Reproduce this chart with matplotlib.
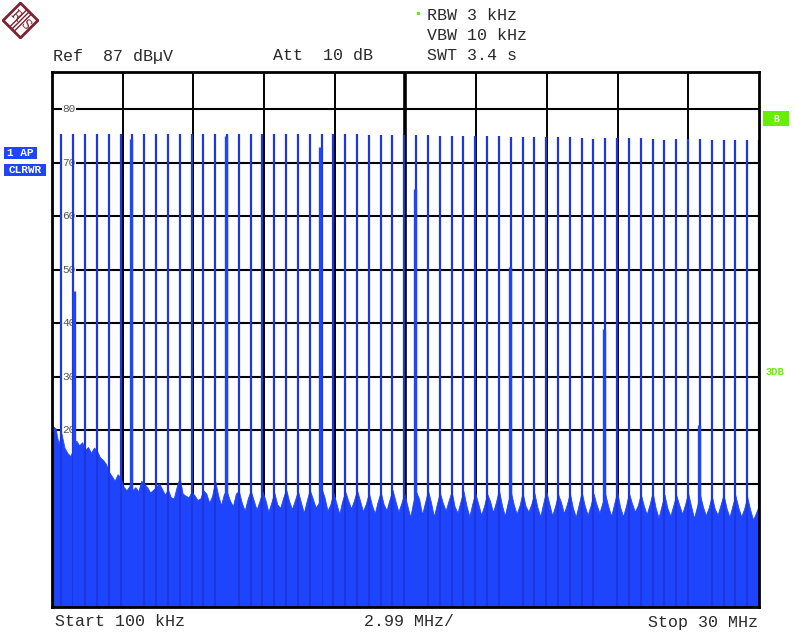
import numpy as np
import matplotlib.pyplot as plt
from matplotlib.patches import Polygon, Rectangle
from matplotlib.transforms import blended_transform_factory

#-------------------------------------
# Sweep settings (MHz / dBuV)
f_start = 0.1
f_stop = 30.0
f_div = 2.99
ref_level = 87
bottom_level = -13
grid_levels = [80, 70, 60, 50, 40, 30, 20, 10, 0, -10]

# 500 kHz comb (harmonics), peak levels
harm_freq = [0.5, 1.0, 1.5, 2.0, 2.5, 3.0, 3.5, 4.0, 4.5, 5.0,
             5.5, 6.0, 6.5, 7.0, 7.5, 8.0, 8.5, 9.0, 9.5, 10.0,
             10.5, 11.0, 11.5, 12.0, 12.5, 13.0, 13.5, 14.0, 14.5, 15.0,
             15.5, 16.0, 16.5, 17.0, 17.5, 18.0, 18.5, 19.0, 19.5, 20.0,
             20.5, 21.0, 21.5, 22.0, 22.5, 23.0, 23.5, 24.0, 24.5, 25.0,
             25.5, 26.0, 26.5, 27.0, 27.5, 28.0, 28.5, 29.0, 29.5, 30.0]
harm_level = [75.5, 75.5, 75.5, 75.5, 75.5, 75.5, 75.5, 75.5, 75.5, 75.5,
              75.5, 75.5, 75.5, 75.5, 75.5, 75.5, 75.4, 75.5, 75.5, 75.5,
              75.4, 75.5, 75.4, 75.4, 75.5, 75.4, 75.3, 75.3, 75.3, 75.3,
              75.2, 75.2, 75.1, 75.1, 75.1, 75.0, 75.1, 75.0, 74.9, 74.9,
              74.9, 74.9, 74.9, 74.9, 74.6, 74.5, 74.6, 74.6, 74.6, 74.6,
              74.4, 74.3, 74.4, 74.4, 74.4, 74.3, 74.2, 74.3, 74.3, 74.3]

# extra (wider) spurs sitting next to some harmonics
spur_freq = [1.05, 3.45, 7.45, 11.45, 15.45, 19.45, 23.45, 27.45]
spur_level = [46.0, 74.5, 75.0, 73.0, 65.2, 50.6, 39.0, 21.0]

# noise floor, one row per MHz, samples every 125 kHz (0.125 ... 1.0 in the row)
floor_start_level = 21.3
floor_rows = [
    [20.8, 20.4, 17.5, 19.4, 16.8, 15.8, 15.2, 16.5],
    [18.1, 17.2, 17.8, 16.4, 16.9, 15.8, 16.8, 16.2],
    [15.0, 14.5, 13.8, 12.3, 11.5, 10.6, 11.8, 11.2],
    [9.5, 8.8, 9.6, 8.8, 9.4, 8.6, 10.6, 10.0],
    [9.4, 8.4, 8.9, 9.4, 10.1, 9.1, 8.0, 9.0],
    [7.5, 7.3, 9.5, 11.2, 8.2, 7.8, 7.5, 8.5],
    [7.9, 7.0, 7.3, 8.8, 8.2, 6.5, 7.8, 10.6],
    [7.9, 6.0, 8.2, 8.5, 6.9, 5.8, 8.2, 8.7],
    [6.5, 5.0, 7.2, 8.8, 7.0, 5.2, 6.8, 8.6],
    [7.0, 4.8, 6.5, 8.4, 6.2, 5.5, 7.4, 9.0],
    [6.8, 5.3, 7.0, 8.7, 6.6, 4.6, 6.9, 8.9],
    [7.3, 5.6, 6.4, 9.2, 7.5, 5.0, 6.2, 8.4],
    [6.4, 4.4, 6.8, 8.6, 6.9, 5.4, 7.0, 8.8],
    [6.9, 4.9, 6.3, 8.3, 6.1, 4.5, 6.7, 8.5],
    [6.2, 5.1, 7.1, 8.9, 6.8, 4.8, 6.4, 8.2],
    [6.0, 3.8, 6.6, 8.5, 7.2, 4.3, 6.5, 8.8],
    [6.6, 3.9, 6.2, 8.4, 6.5, 5.0, 6.9, 8.6],
    [5.8, 4.6, 6.7, 8.7, 6.0, 3.9, 6.3, 8.3],
    [6.3, 4.2, 5.9, 8.2, 6.8, 4.7, 6.6, 8.9],
    [6.1, 4.0, 6.5, 8.6, 6.2, 4.4, 6.0, 8.4],
    [5.9, 4.8, 6.3, 8.3, 5.7, 3.9, 6.4, 8.7],
    [6.4, 4.1, 5.8, 8.1, 6.6, 4.5, 6.2, 8.3],
    [5.6, 3.8, 6.1, 8.5, 6.0, 4.2, 5.9, 8.2],
    [6.2, 4.6, 6.4, 8.0, 5.8, 4.0, 6.3, 8.6],
    [5.7, 3.9, 5.9, 8.3, 6.4, 4.8, 6.0, 8.1],
    [6.0, 4.3, 6.2, 8.4, 5.6, 3.7, 5.8, 8.0],
    [5.5, 4.0, 6.0, 7.9, 6.1, 4.4, 6.2, 8.3],
    [5.9, 3.6, 5.7, 8.1, 5.8, 4.1, 5.6, 7.8],
    [5.4, 4.2, 6.1, 8.0, 5.5, 3.8, 5.9, 7.9],
    [5.6, 3.9, 5.4, 7.6, 5.2, 3.3, 4.6, 6.0],
]

#-------------------------------------
# Colors / fonts
TRACE = '#1f45fc'
SPIKE = '#1c36e2'
MONO = 'Liberation Mono'
TXT = '#2a2a2a'
W, H = 794, 637

floor_level = [floor_start_level] + [v for row in floor_rows for v in row]
floor_freq = [f_start] + list(np.arange(1, len(floor_level)) * 0.125)

fig = plt.figure(figsize=(W / 100, H / 100), dpi=100)
fig.patch.set_facecolor('white')

def fx(px):
    return px / W

def fy(py):
    return 1 - py / H

ax = fig.add_axes([fx(52), 30 / H, 707 / W, 535 / H])
ax.set_xlim(f_start, f_stop)
ax.set_ylim(bottom_level, ref_level)
ax.set_xticks([])
ax.set_yticks([])
for s in ax.spines.values():
    s.set_linewidth(2.0)
    s.set_color('black')
    s.set_zorder(6)

# graticule
for i in range(1, 10):
    ax.axvline(f_start + i * f_div, color='black', lw=2.6 if i == 5 else 1.4, zorder=1)
for lev in grid_levels:
    ax.axhline(lev, color='black', lw=1.5, zorder=1)

# level labels inside the graticule
trans = blended_transform_factory(ax.transAxes, ax.transData)
for lev in grid_levels:
    ax.text(17 / 707, lev, str(lev), transform=trans, ha='center', va='center',
            fontsize=8, family=MONO, color='#555555', zorder=2,
            bbox=dict(fc='white', ec='none', pad=0.6))

# trace: noise floor + spectral lines
ax.fill_between(floor_freq, bottom_level, floor_level, color=TRACE, lw=0.6, zorder=3)
ax.vlines(harm_freq, bottom_level, harm_level, color=SPIKE, lw=1.6, zorder=4)
ax.vlines(spur_freq, bottom_level, spur_level, color=TRACE, lw=2.4, zorder=4)

#-------------------------------------
# header / footer texts
fig.text(fx(53), fy(56), 'Ref  87 dB\u00b5V', family=MONO, fontsize=12, color=TXT, va='center')
fig.text(fx(273), fy(56), 'Att  10 dB', family=MONO, fontsize=12, color=TXT, va='center')
fig.text(fx(427), fy(15), 'RBW 3 kHz', family=MONO, fontsize=12, color=TXT, va='center')
fig.text(fx(427), fy(35), 'VBW 10 kHz', family=MONO, fontsize=12, color=TXT, va='center')
fig.text(fx(427), fy(55), 'SWT 3.4 s', family=MONO, fontsize=12, color=TXT, va='center')
fig.patches.append(Rectangle((fx(416.5), fy(15)), 3 / W, 3 / H, transform=fig.transFigure,
                             color='#55ee22', lw=0))

fig.text(fx(55), fy(622), 'Start 100 kHz', family=MONO, fontsize=12, color=TXT, va='center')
fig.text(fx(364), fy(622), '2.99 MHz/', family=MONO, fontsize=12, color=TXT, va='center')
fig.text(fx(648), fy(622), 'Stop 30 MHz', family=MONO, fontsize=12, color=TXT, va='center')

# trace info boxes on the left
fig.patches.append(Rectangle((fx(4), fy(159)), 33 / W, 12 / H, transform=fig.transFigure,
                             color=TRACE, lw=0))
fig.text(fx(20.5), fy(153), '1 AP', family=MONO, fontsize=8, color='white',
         va='center', ha='center', fontweight='bold')
fig.patches.append(Rectangle((fx(4), fy(176)), 42 / W, 12 / H, transform=fig.transFigure,
                             color=TRACE, lw=0))
fig.text(fx(25), fy(170), 'CLRWR', family=MONO, fontsize=8, color='white',
         va='center', ha='center', fontweight='bold')

# right side markers
fig.patches.append(Rectangle((fx(763), fy(126)), 26 / W, 15 / H, transform=fig.transFigure,
                             color='#66f000', lw=0))
fig.text(fx(776), fy(118.5), 'B', family=MONO, fontsize=7, color='white',
         va='center', ha='center', fontweight='bold')
fig.text(fx(775), fy(372), '3DB', family=MONO, fontsize=7.5, color='#66f000',
         va='center', ha='center', fontweight='bold')

# R&S logo
logo = fig.add_axes([fx(2), fy(39), 37 / W, 37 / H])
logo.set_xlim(0, 1)
logo.set_ylim(0, 1)
logo.axis('off')
logo.add_patch(Polygon([[0.5, 0.97], [0.97, 0.5], [0.5, 0.03], [0.03, 0.5]],
                       closed=True, fc='white', ec='#7b2230', lw=2))
for d in (-0.06, 0.0, 0.06):
    logo.plot([0.27 + d, 0.73 + d], [0.27 - d, 0.73 - d], color='#7b2230', lw=1)
logo.text(0.36, 0.62, 'R', color='#7b2230', fontsize=9, ha='center', va='center',
          family='DejaVu Serif', rotation=-45)
logo.text(0.64, 0.36, 'S', color='#7b2230', fontsize=9, ha='center', va='center',
          family='DejaVu Serif', rotation=-45)

plt.savefig('out.png', dpi=100)
